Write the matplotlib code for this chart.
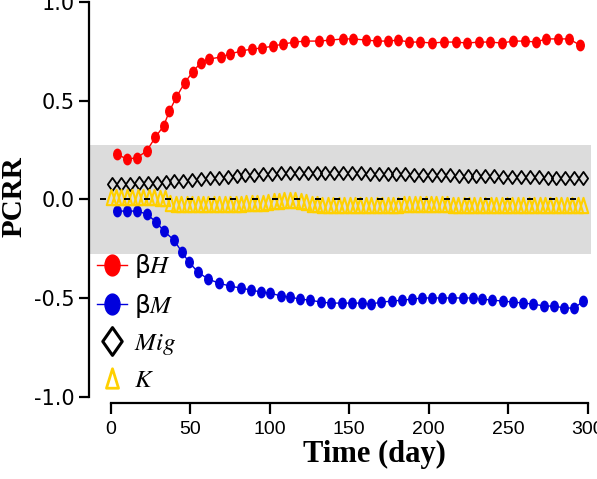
import numpy as np
import matplotlib.pyplot as plt
from matplotlib.path import Path
from matplotlib.transforms import Affine2D
from matplotlib.lines import Line2D

plt.rcParams['mathtext.fontset'] = 'stix'
plt.rcParams['axes.unicode_minus'] = False

# beta_H (red)
bh_day = [3.8, 10.0, 16.3, 22.6, 28.2, 33.3, 37.0, 41.4, 46.5, 51.5, 56.5, 62.1, 69.1,
          75.3, 82.2, 89.1, 95.4, 102.3, 108.6, 115.5, 122.4, 131.2, 138.1, 146.3, 152.5,
          160.7, 167.6, 174.5, 180.8, 187.7, 194.6, 202.1, 209.7, 217.2, 224.1, 231.6,
          238.5, 246.1, 253.0, 260.5, 267.4, 273.7, 281.2, 288.1, 295.0]
bh_val = [0.229, 0.204, 0.209, 0.244, 0.315, 0.371, 0.447, 0.518, 0.589, 0.644, 0.690,
          0.710, 0.720, 0.736, 0.751, 0.761, 0.766, 0.776, 0.786, 0.796, 0.801, 0.801,
          0.806, 0.812, 0.812, 0.806, 0.801, 0.801, 0.806, 0.796, 0.796, 0.791, 0.796,
          0.796, 0.791, 0.796, 0.796, 0.791, 0.801, 0.801, 0.796, 0.812, 0.812, 0.812, 0.781]

# beta_M (blue)
bm_day = [4.0, 10.2, 16.5, 22.8, 28.5, 33.5, 39.8, 44.8, 49.2, 54.9, 61.2, 68.1, 75.1,
          82.0, 88.3, 94.6, 100.2, 107.1, 112.8, 119.1, 125.4, 132.3, 138.6, 145.5, 151.8,
          158.1, 163.8, 170.1, 177.0, 183.3, 189.6, 195.9, 202.2, 208.5, 214.8, 221.7,
          228.0, 233.6, 239.9, 246.9, 253.2, 259.4, 265.7, 272.7, 279.0, 285.2, 291.5, 297.2]
bm_val = [-0.060, -0.060, -0.060, -0.075, -0.115, -0.161, -0.207, -0.267, -0.318, -0.369,
          -0.404, -0.425, -0.440, -0.450, -0.460, -0.470, -0.475, -0.490, -0.495, -0.506,
          -0.511, -0.521, -0.526, -0.526, -0.526, -0.526, -0.531, -0.521, -0.516, -0.511,
          -0.506, -0.500, -0.500, -0.500, -0.500, -0.500, -0.500, -0.506, -0.511, -0.516,
          -0.521, -0.526, -0.531, -0.541, -0.541, -0.551, -0.551, -0.516]

# Mig (black diamonds)
mig_val = [0.078, 0.078, 0.079, 0.080, 0.081, 0.083, 0.086, 0.090, 0.094, 0.098,
           0.102, 0.106, 0.110, 0.114, 0.118, 0.121, 0.124, 0.127, 0.129, 0.131,
           0.132, 0.133, 0.134, 0.134, 0.134, 0.133, 0.133, 0.132, 0.131, 0.130,
           0.129, 0.128, 0.127, 0.126, 0.125, 0.124, 0.123, 0.122, 0.121, 0.120,
           0.119, 0.118, 0.117, 0.116, 0.115, 0.114, 0.113, 0.112, 0.111, 0.110,
           0.110, 0.109, 0.108, 0.108]
mig_day = np.linspace(1, 297, len(mig_val))

# K (yellow triangles)
k_val = [0.010, 0.012, 0.010, 0.012, 0.010, 0.012, 0.010, 0.012, 0.010, 0.008,
         0.005, -0.020, -0.022, -0.024, -0.022, -0.024, -0.022, -0.024, -0.022, -0.024,
         -0.022, -0.024, -0.022, -0.024, -0.022, -0.020, -0.018, -0.020, -0.018, -0.015,
         -0.010, -0.008, -0.005, -0.004, -0.005, -0.008, -0.015, -0.022, -0.026, -0.028,
         -0.028, -0.030, -0.028, -0.030, -0.028, -0.030, -0.028, -0.030, -0.028, -0.030,
         -0.028, -0.030, -0.028, -0.030, -0.026, -0.024, -0.026, -0.024, -0.022, -0.024,
         -0.022, -0.024, -0.026, -0.028, -0.030, -0.028, -0.030, -0.028, -0.030, -0.028,
         -0.030, -0.028, -0.030, -0.028, -0.030, -0.028, -0.030, -0.028, -0.030, -0.028,
         -0.030, -0.028, -0.030, -0.028, -0.030, -0.028, -0.030, -0.030]
k_day = np.linspace(0, 297, len(k_val))

# little dashes along zero
zero_day = [-4.8, 10.2, 22.8, 36.0, 49.8, 63.7, 76.7, 90.7, 103.3, 117.2, 130.3, 142.3,
            156.7, 169.2, 181.9, 197.5, 211.4, 223.9, 236.5, 249.7, 263.5, 277.4, 290.6]
zero_val = [0.0] * len(zero_day)

band = (-0.275, 0.275)
x_ticks = [0, 50, 100, 150, 200, 250, 300]
y_ticks = [-1.0, -0.5, 0.0, 0.5, 1.0]

red = '#FF0000'
blue = '#0000DD'
gold = '#FFD000'

ellipse = Path.unit_circle().transformed(Affine2D().scale(0.72, 1.0))
diamond = Path([(0, 1), (0.7, 0), (0, -1), (-0.7, 0), (0, 1)],
               [Path.MOVETO, Path.LINETO, Path.LINETO, Path.LINETO, Path.CLOSEPOLY])
tri = Path([(0, 1), (-0.62, -1), (0.62, -1), (0, 1)],
           [Path.MOVETO, Path.LINETO, Path.LINETO, Path.CLOSEPOLY])

fig = plt.figure(figsize=(5.97, 4.79), dpi=100)
ax = fig.add_axes([89/597, 1 - 403/479, (591 - 89)/597, (403 - 1)/479])

ax.axhspan(band[0], band[1], color='#DCDCDC', lw=0, zorder=0)

ax.plot(bh_day, bh_val, color=red, lw=1.0, marker=ellipse, ms=7.5, mec=red, mfc=red, zorder=3)
ax.plot(bm_day, bm_val, color=blue, lw=1.0, marker=ellipse, ms=7.5, mec=blue, mfc=blue, zorder=3)
ax.plot(mig_day, mig_val, ls='none', marker=diamond, ms=9.5, mfc='none', mec='black',
        mew=1.3, zorder=4)
ax.plot(k_day, k_val, ls='none', marker=tri, ms=11, mfc='none', mec=gold, mew=1.5, zorder=5)
ax.plot(zero_day, zero_val, ls='none', marker='_', ms=4, mew=1.4, color='black', zorder=6)

ax.set_xlim(-13.6, 302)
ax.set_ylim(-1.032, 1.004)
ax.set_xticks(x_ticks)
ax.set_yticks(y_ticks)
ax.set_xticklabels([str(t) for t in x_ticks], family='Liberation Sans')
ax.set_yticklabels([f'{t:.1f}' for t in y_ticks], family='DejaVu Sans')

for s in ['top', 'right']:
    ax.spines[s].set_visible(False)
ax.spines['left'].set_linewidth(1.6)
ax.spines['bottom'].set_linewidth(1.6)
ax.spines['left'].set_bounds(-1.0, 1.0)
ax.spines['bottom'].set_bounds(0, 300)
ax.tick_params(axis='y', direction='out', length=7, width=1.6, labelsize=15, pad=3)
ax.tick_params(axis='x', direction='out', length=8, width=1.6, labelsize=14, pad=5)

fig.text(14/597, 1 - 197/479, 'PCRR', rotation=90, ha='center', va='center',
         family='Liberation Serif', weight='bold', fontsize=21)
fig.text(374/597, 1 - 462/479, 'Time (day)', ha='center', va='baseline',
         family='Liberation Serif', weight='bold', fontsize=22)

handles = [
    Line2D([], [], color=red, lw=1.0, marker=ellipse, ms=15, mfc=red, mec=red),
    Line2D([], [], color=blue, lw=1.0, marker=ellipse, ms=15, mfc=blue, mec=blue),
    Line2D([], [], ls='none', marker=diamond, ms=20, mfc='none', mec='black', mew=2.2),
    Line2D([], [], ls='none', marker=tri, ms=14, mfc='none', mec=gold, mew=2.0),
]
labels = ['β$\\mathit{H}$', 'β$\\mathit{M}$', '$\\mathit{Mig}$', '$\\mathit{K}$']
ax.legend(handles, labels, loc='upper left', bbox_to_anchor=(0.015, 0.375),
          frameon=False, fontsize=18, handlelength=1.2, handletextpad=0.3,
          labelspacing=0.45, borderpad=0, borderaxespad=0)

fig.savefig('out.png', dpi=100)
